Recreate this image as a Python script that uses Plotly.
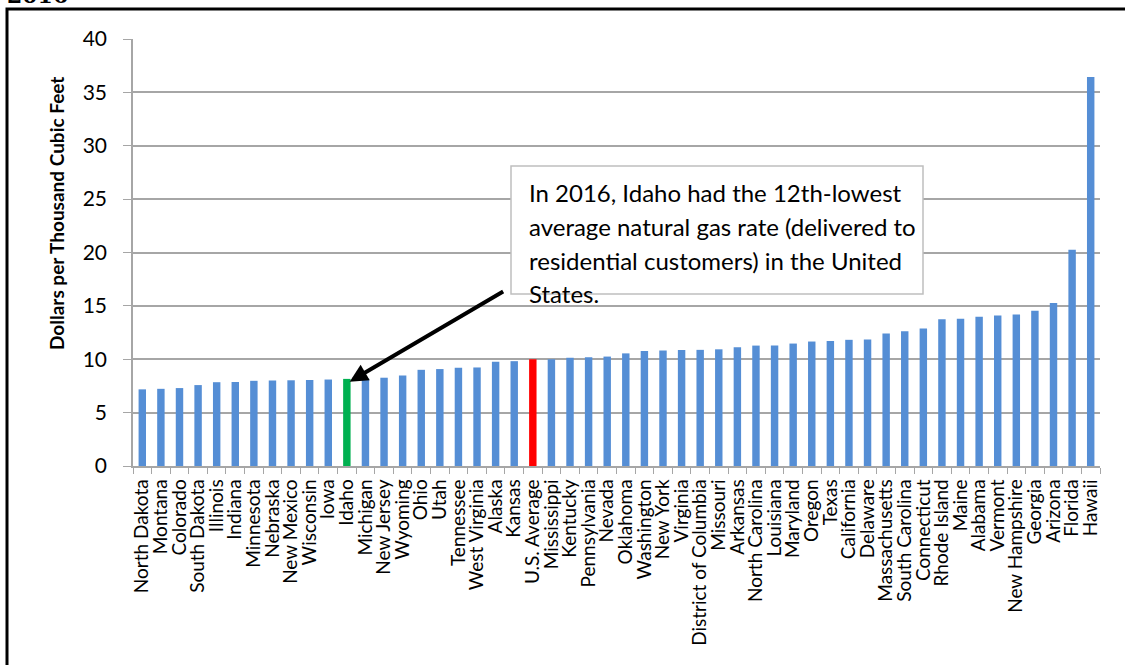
import plotly.graph_objects as go

STATES = [
    "North Dakota", "Montana", "Colorado", "South Dakota", "Illinois", "Indiana",
    "Minnesota", "Nebraska", "New Mexico", "Wisconsin", "Iowa", "Idaho",
    "Michigan", "New Jersey", "Wyoming", "Ohio", "Utah", "Tennessee",
    "West Virginia", "Alaska", "Kansas", "U.S. Average", "Mississippi", "Kentucky",
    "Pennsylvania", "Nevada", "Oklahoma", "Washington", "New York", "Virginia",
    "District of Columbia", "Missouri", "Arkansas", "North Carolina", "Louisiana",
    "Maryland", "Oregon", "Texas", "California", "Delaware", "Massachusetts",
    "South Carolina", "Connecticut", "Rhode Island", "Maine", "Alabama", "Vermont",
    "New Hampshire", "Georgia", "Arizona", "Florida", "Hawaii",
]
PRICES = [
    7.18, 7.23, 7.30, 7.58, 7.85, 7.87, 7.98, 8.00, 8.03, 8.06, 8.10, 8.16,
    8.20, 8.27, 8.48, 9.01, 9.08, 9.20, 9.23, 9.76, 9.82, 10.00, 10.00, 10.14,
    10.18, 10.25, 10.55, 10.77, 10.82, 10.87, 10.88, 10.93, 11.13, 11.28, 11.29,
    11.47, 11.66, 11.72, 11.82, 11.85, 12.42, 12.62, 12.87, 13.75, 13.79, 13.97,
    14.10, 14.20, 14.55, 15.27, 20.25, 36.45,
]
NOTE_LINES = [
    "In 2016, Idaho had the 12th-lowest",
    "average natural gas rate (delivered to",
    "residential customers) in the United",
    "States.",
]

BLUE = "#558ed5"
GRID = "#a6a6a6"
FONT = "Lato, Open Sans, sans-serif"

# plot area in pixels, used to place the text box and frame
W, H = 1125, 665
L, R, T, B = 133, 25, 39, 199
PW, PH = W - L - R, H - T - B


def px_x(x):
    return (x - L) / PW


def px_y(y):
    return (H - B - y) / PH


colors = [BLUE] * len(STATES)
colors[STATES.index("Idaho")] = "#00b050"
colors[STATES.index("U.S. Average")] = "#ff0000"

fig = go.Figure(
    go.Bar(x=STATES, y=PRICES, marker={"color": colors, "line": {"width": 0}})
)

fig.update_layout(
    width=W,
    height=H,
    margin={"l": L, "r": R, "t": T, "b": B},
    paper_bgcolor="white",
    plot_bgcolor="white",
    bargap=0.6,
    showlegend=False,
    font={"family": FONT, "color": "black"},
)
fig.update_yaxes(
    range=[0, 40],
    dtick=5,
    showgrid=True,
    gridcolor=GRID,
    gridwidth=1.5,
    zeroline=False,
    showline=True,
    linecolor=GRID,
    linewidth=1.5,
    ticks="outside",
    ticklen=8,
    tickcolor=GRID,
    ticklabelstandoff=12,
    tickfont={"size": 21},
)
fig.update_xaxes(
    showline=True,
    linecolor=GRID,
    linewidth=1.5,
    ticks="outside",
    tickson="boundaries",
    ticklen=6,
    tickcolor=GRID,
    tickangle=-90,
    tickmode="array",
    tickvals=STATES,
    ticktext=STATES,
    ticklabelstandoff=4,
    tickfont={"size": 19},
)

# y axis title, sitting a bit above the plot centre like the original
fig.add_annotation(
    text="<b>Dollars per Thousand Cubic Feet</b>",
    xref="paper", yref="paper",
    x=px_x(56), y=px_y(214),
    xanchor="center", yanchor="middle",
    textangle=-90, showarrow=False,
    font={"size": 19},
)

# white callout box, text spills out below it
fig.add_shape(
    type="rect", xref="paper", yref="paper",
    x0=px_x(511), x1=px_x(923), y0=px_y(294), y1=px_y(166),
    line={"color": "#bfbfbf", "width": 1.5},
    fillcolor="white", layer="above",
)
for i, line in enumerate(NOTE_LINES):
    fig.add_annotation(
        text=line, xref="paper", yref="paper",
        x=px_x(527), y=px_y(193 + i * 33.5),
        xanchor="left", yanchor="middle", showarrow=False,
        font={"size": 24},
    )

# arrow from the box to the Idaho bar
fig.add_annotation(
    x=STATES.index("Idaho") + 0.15, y=7.9,
    ax=155, ay=-91, axref="pixel", ayref="pixel",
    text="", showarrow=True,
    arrowhead=2, arrowsize=0.9, arrowwidth=4, arrowcolor="black",
)

# outer frame and the clipped heading above it
fig.add_shape(
    type="rect", xref="paper", yref="paper",
    x0=px_x(7), x1=px_x(1135), y0=px_y(680), y1=px_y(9),
    line={"color": "black", "width": 3}, fillcolor="rgba(0,0,0,0)",
    layer="above",
)
fig.add_annotation(
    text="<b>2016</b>", xref="paper", yref="paper",
    x=px_x(5), y=px_y(10), xanchor="left", yanchor="bottom",
    showarrow=False,
    font={"family": "DejaVu Serif, serif", "size": 22},
)

# page body has a default 8px margin; drop it so the figure sits at 0,0
fig.write_html(
    "out.html",
    config={"displayModeBar": False},
    post_script="document.body.style.margin = '0';",
)
